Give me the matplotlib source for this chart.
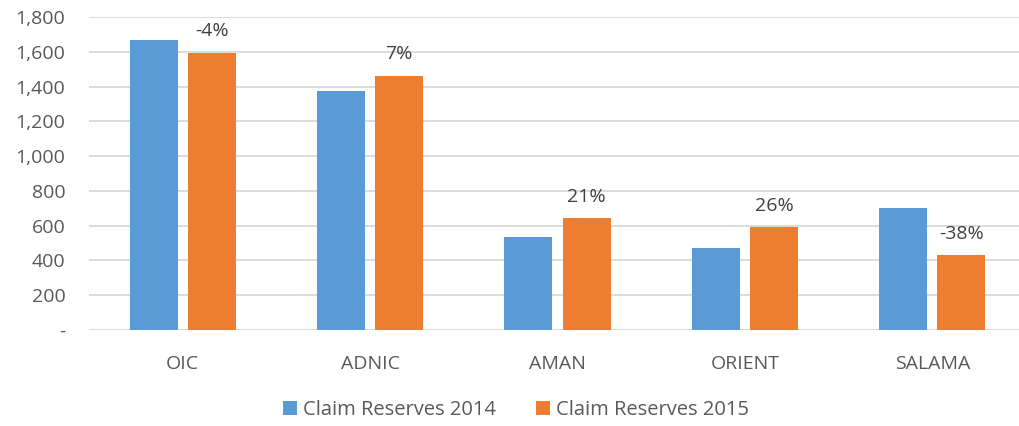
import numpy as np
import matplotlib
matplotlib.use("Agg")
import matplotlib.pyplot as plt
from matplotlib.ticker import FuncFormatter

companies = ["OIC", "ADNIC", "AMAN", "ORIENT", "SALAMA"]
reserves_2014 = [1668, 1374, 535, 470, 703]
reserves_2015 = [1595, 1461, 644, 590, 431]
changes = ["-4%", "7%", "21%", "26%", "-38%"]

blue = "#5B9BD5"
orange = "#ED7D31"
grey = "#595959"

plt.rcParams["font.family"] = ["Open Sans", "DejaVu Sans"]

fig = plt.figure(figsize=(10.2, 4.26), dpi=100)
ax = fig.add_axes([0.0873, 0.2254, 0.9186, 0.7347])

x = np.arange(len(companies))
w = 0.256
off = 0.155
ax.bar(x - off, reserves_2014, w, color=blue, label="Claim Reserves 2014", zorder=3)
b2 = ax.bar(x + off, reserves_2015, w, color=orange, label="Claim Reserves 2015", zorder=3)

for rect, txt in zip(b2, changes):
    ax.annotate(txt, (rect.get_x() + rect.get_width() / 2, rect.get_height()),
                xytext=(0, 9), textcoords="offset points",
                ha="center", va="bottom", fontsize=14, color="#404040")

ax.set_xlim(-0.5, len(companies) - 0.5)
ax.set_ylim(0, 1800)
ax.set_yticks(np.arange(0, 1801, 200))
ax.yaxis.set_major_formatter(FuncFormatter(lambda v, p: "-" if v == 0 else f"{int(v):,}"))
ax.set_xticks(x)
ax.set_xticklabels(companies)

ax.grid(axis="y", color="#D9D9D9", linewidth=1.3, zorder=0)
for s in ax.spines.values():
    s.set_visible(False)
ax.tick_params(axis="both", length=0, labelsize=14, colors=grey)
ax.tick_params(axis="y", pad=17)
ax.tick_params(axis="x", pad=18)

fig.legend(loc="center", bbox_to_anchor=(0.506, 0.038), ncol=2, frameon=False,
           fontsize=14.5, labelcolor=grey, handlelength=0.7, handleheight=0.7,
           handletextpad=0.3, columnspacing=2.0)

fig.savefig("out.png", dpi=100)
